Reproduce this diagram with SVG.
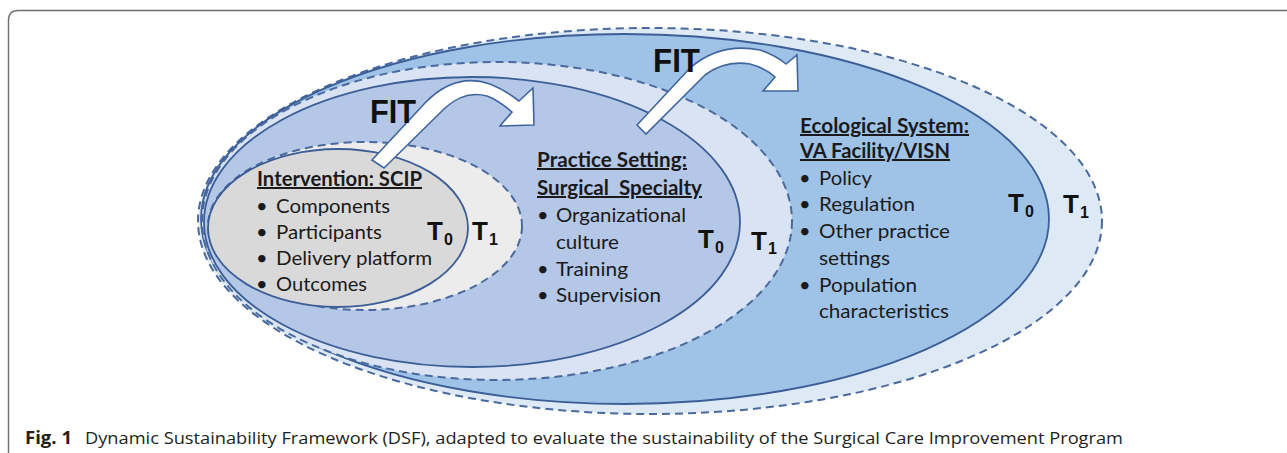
<svg xmlns="http://www.w3.org/2000/svg" width="1287" height="453" viewBox="0 0 1287 453">
<style>
.solid{stroke:#3b5e97;stroke-width:1.8}
.dash{stroke:#4a6a9e;stroke-width:2;stroke-dasharray:8 5}
.t{font-family:Lato,"Liberation Sans",sans-serif;font-size:20px;fill:#1a1a1a}
.h{font-family:Lato,"Liberation Sans",sans-serif;font-size:20px;font-weight:bold;fill:#1a1a1a;text-decoration:underline}
.tl{font-family:"Liberation Sans",Arial,sans-serif;font-weight:bold;font-size:26px;fill:#111}
.sub{font-family:"Liberation Sans",Arial,sans-serif;font-weight:bold;font-size:16px;fill:#111}
.fit{font-family:"Liberation Sans",Arial,sans-serif;font-weight:bold;font-size:33px;fill:#111}
.arrow{fill:#fff;stroke:#3f659c;stroke-width:1.6;stroke-linejoin:miter}
.cap{font-family:"Open Sans","Liberation Sans",sans-serif;font-size:17px;fill:#231f20}
</style>
<rect width="1287" height="453" fill="#fff"/>
<path d="M8.5,470 L8.5,20 Q8.5,10.5 18,10.5 L1287,10.5" fill="none" stroke="#6e6e6e" stroke-width="1.4"/>

<g id="ecological-t1">
<ellipse cx="650" cy="221" rx="452" ry="193" fill="#dde9f5" class="dash"/>
<text class="tl" x="1063" y="213">T</text><text class="sub" x="1080" y="218">1</text>
</g>
<g id="ecological-t0">
<ellipse cx="625" cy="219" rx="424" ry="185" fill="#9fc3e7" class="solid"/>
<text class="tl" x="1008" y="212">T</text><text class="sub" x="1025" y="217">0</text>
<text class="h" x="800" y="133" textLength="169" lengthAdjust="spacingAndGlyphs">Ecological System:</text>
<text class="h" x="800" y="158" textLength="150" lengthAdjust="spacingAndGlyphs">VA Facility/VISN</text>
<text class="t" x="799" y="185">•</text><text class="t" x="819" y="185" textLength="53" lengthAdjust="spacingAndGlyphs">Policy</text>
<text class="t" x="799" y="211">•</text><text class="t" x="819" y="211" textLength="96" lengthAdjust="spacingAndGlyphs">Regulation</text>
<text class="t" x="799" y="238">•</text><text class="t" x="819" y="238" textLength="131" lengthAdjust="spacingAndGlyphs">Other practice</text>
<text class="t" x="819" y="265" textLength="71" lengthAdjust="spacingAndGlyphs">settings</text>
<text class="t" x="799" y="292">•</text><text class="t" x="819" y="292" textLength="98" lengthAdjust="spacingAndGlyphs">Population</text>
<text class="t" x="819" y="318" textLength="130" lengthAdjust="spacingAndGlyphs">characteristics</text>
</g>

<g id="practice-t1">
<ellipse cx="497" cy="221" rx="295" ry="159" fill="#d9e3f3" class="dash"/>
<text class="tl" x="751" y="250">T</text><text class="sub" x="768" y="254">1</text>
</g>
<g id="practice-t0">
<ellipse cx="472" cy="222" rx="268" ry="145" fill="#b4c7e7" class="solid"/>
<text class="tl" x="698" y="248">T</text><text class="sub" x="715" y="253">0</text>
<text class="h" x="537" y="167" textLength="150" lengthAdjust="spacingAndGlyphs">Practice Setting:</text>
<text class="h" x="537" y="195" textLength="165" lengthAdjust="spacingAndGlyphs" xml:space="preserve">Surgical  Specialty</text>
<text class="t" x="537" y="222">•</text><text class="t" x="556" y="222" textLength="130" lengthAdjust="spacingAndGlyphs">Organizational</text>
<text class="t" x="556" y="249" textLength="63" lengthAdjust="spacingAndGlyphs">culture</text>
<text class="t" x="537" y="276">•</text><text class="t" x="556" y="276" textLength="72" lengthAdjust="spacingAndGlyphs">Training</text>
<text class="t" x="537" y="302">•</text><text class="t" x="556" y="302" textLength="105" lengthAdjust="spacingAndGlyphs">Supervision</text>
</g>

<g id="intervention-t1">
<ellipse cx="365" cy="226" rx="157" ry="84" fill="#ececec" class="dash"/>
<text class="tl" x="472" y="240">T</text><text class="sub" x="489" y="245">1</text>
</g>
<g id="intervention-t0">
<ellipse cx="338" cy="228" rx="130" ry="79" fill="#d9d9d9" class="solid"/>
<text class="tl" x="427" y="240">T</text><text class="sub" x="444" y="245">0</text>
<text class="h" x="257" y="186" textLength="165" lengthAdjust="spacingAndGlyphs">Intervention: SCIP</text>
<text class="t" x="256" y="213">•</text><text class="t" x="276" y="213" textLength="114" lengthAdjust="spacingAndGlyphs">Components</text>
<text class="t" x="256" y="239">•</text><text class="t" x="276" y="239" textLength="106" lengthAdjust="spacingAndGlyphs">Participants</text>
<text class="t" x="256" y="265">•</text><text class="t" x="276" y="265" textLength="156" lengthAdjust="spacingAndGlyphs">Delivery platform</text>
<text class="t" x="256" y="291">•</text><text class="t" x="276" y="291" textLength="91" lengthAdjust="spacingAndGlyphs">Outcomes</text>
</g>

<g id="connectors">
<path class="arrow" d="M372,160 L425,103 Q455,72 490,84 Q505,90 519,101 L533,88 L534,125 L500,126 L512,112 Q498,100 487,96 Q465,90 445,108 L384,168 Z"/>
<path class="arrow" d="M637,125 L690,68 Q720,42 760,50 Q775,55 786,64 L797,55 L798,91 L763,91 L775,77 Q765,68 750,64 Q725,60 705,75 L646,134 Z"/>
<text class="fit" x="370" y="123" textLength="46" lengthAdjust="spacingAndGlyphs">FIT</text>
<text class="fit" x="653" y="72" textLength="47" lengthAdjust="spacingAndGlyphs">FIT</text>
</g>

<g id="caption">
<text class="cap" x="25" y="444" font-weight="bold" textLength="47" lengthAdjust="spacingAndGlyphs">Fig. 1</text>
<text class="cap" x="85" y="444" textLength="1038" lengthAdjust="spacingAndGlyphs">Dynamic Sustainability Framework (DSF), adapted to evaluate the sustainability of the Surgical Care Improvement Program</text>
</g>
</svg>
